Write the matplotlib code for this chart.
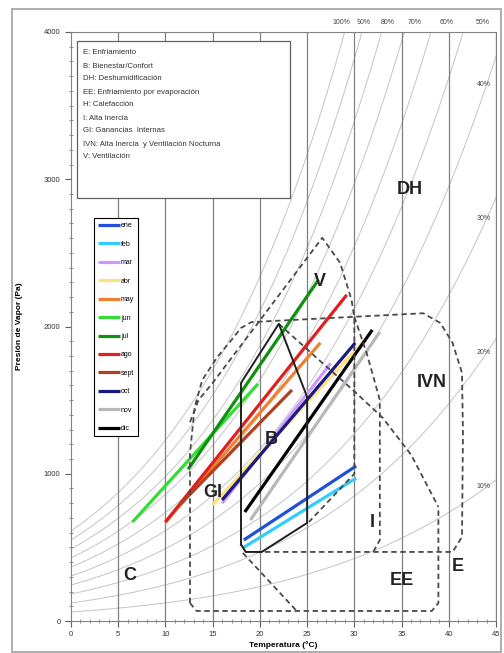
import numpy as np
import matplotlib.pyplot as plt
from matplotlib.patches import Rectangle

plt.rcParams['font.family'] = ['Liberation Sans', 'DejaVu Sans']

# --- DATA ---
months = ["ene", "feb", "mar", "abr", "may", "jun", "jul", "ago", "sept", "oct", "nov", "dic"]
month_colors = ["#1f50d8", "#33ccff", "#cc99ff", "#ffe080", "#f08030", "#33dd33",
                "#109010", "#e02020", "#b04020", "#1a1a80", "#b8b8b8", "#000000"]
t_min = [18.3, 18.2, 16.0, 15.0, 10.0, 6.5, 12.4, 10.0, 11.5, 16.0, 19.0, 18.4]
t_max = [30.2, 30.2, 27.5, 31.0, 26.4, 19.8, 26.2, 29.2, 23.4, 30.1, 32.7, 31.9]
p_at_tmin = [550, 496, 800, 790, 672, 672, 1030, 672, 788, 822, 686, 740]
p_at_tmax = [1053, 971, 1750, 1900, 1889, 1610, 2317, 2215, 1569, 1889, 1963, 1977]

rh_levels = [10, 20, 30, 40, 50, 60, 70, 80, 90, 100]

# comfort zone (B), solid outline
comfort_t = [18.0, 18.0, 22.0, 25.0, 25.0, 20.2, 18.5, 18.0]
comfort_p = [520, 1617, 2018, 1522, 666, 469, 469, 520]

# dashed zone outlines
zone_lines = {
    "IVN": ([12.6, 12.6, 13.1, 13.9, 15.5, 17.0, 18.0, 19.1, 37.3, 39.1, 40.4, 41.4, 41.5, 41.4, 40.4, 19.7],
            [122, 1141, 1454, 1637, 1793, 1909, 1990, 2030, 2090, 2024, 1889, 1685, 1277, 571, 469, 469]),
    "bottom": ([12.6, 13.3, 38.2, 38.9, 38.9],
               [122, 68, 68, 122, 775]),
    "V": ([12.6, 13.5, 15.0, 26.6, 28.5, 29.7, 30.0, 30.0, 25.2],
          [1350, 1500, 1617, 2602, 2432, 2181, 2065, 1000, 673]),
    "I": ([30.0, 31.3, 32.7, 32.7, 32.0],
          [2065, 1821, 1501, 550, 469]),
    "EE": ([22.0, 26.6, 30.0, 33.0, 36.0, 38.9],
           [2018, 1753, 1560, 1380, 1130, 775]),
    "EE_left": ([18.2, 23.9], [462, 68]),
}

zone_labels = ["DH", "IVN", "V", "B", "GI", "C", "I", "EE", "E"]
zone_label_t = [35.9, 38.2, 26.3, 21.2, 15.0, 6.2, 31.9, 35.0, 41.0]
zone_label_p = [2928, 1617, 2303, 1230, 876, 312, 672, 278, 367]

key_lines = ["E: Enfriamiento", "B: Bienestar/Confort", "DH: Deshumidificación",
             "EE: Enfriamiento por evaporación", "H: Calefacción", "I: Alta Inercia",
             "GI: Ganancias  Internas", "IVN: Alta Inercia  y Ventilación Nocturna",
             "V: Ventilación"]


def psat(t):
    return 610.78 * np.exp(17.27 * t / (t + 237.3))


W, H = 504, 653
fig = plt.figure(figsize=(W / 100, H / 100), dpi=100)
fig.patches.append(Rectangle((12 / W, 1 / H), 489 / W, 643 / H, transform=fig.transFigure,
                             fill=False, edgecolor="#a0a0a0", lw=1.2))

ax = fig.add_axes([71 / W, 1 - 621 / H, 425 / W, 589 / H])
ax.set_xlim(0, 45)
ax.set_ylim(0, 4000)

# --- RH CURVES ---
tt = np.linspace(0, 45, 400)
for rh in rh_levels:
    ax.plot(tt, rh / 100 * psat(tt), color="#c4c4c4", lw=0.7, zorder=1)
    if rh >= 50:
        tc = np.interp(4000, rh / 100 * psat(tt), tt)
        ax.text(tc - 0.3 + (1 - rh / 100) * 4.8, 4040, f"{rh}%", fontsize=5,
                ha="center", va="bottom", color="#444444")
    else:
        ax.text(43.7, rh / 100 * psat(45) * 0.95, f"{rh}%", fontsize=5,
                ha="center", va="center", color="#444444")

# --- GRID ---
for x in range(5, 46, 5):
    ax.axvline(x, color="#808080", lw=0.9, zorder=1)

# --- ZONES ---
for name, (zt, zp) in zone_lines.items():
    ax.plot(zt, zp, color="#4a4a4a", lw=1.3, ls=(0, (3, 2)), zorder=4)
ax.plot(comfort_t, comfort_p, color="#202020", lw=1.4, zorder=5)

# --- MONTH LINES ---
for m, c, t0, t1, p0, p1 in zip(months, month_colors, t_min, t_max, p_at_tmin, p_at_tmax):
    ax.plot([t0, t1], [p0, p1], color=c, lw=2.3, label=m, zorder=3, solid_capstyle="butt")

for lab, t, p in zip(zone_labels, zone_label_t, zone_label_p):
    ax.text(t, p, lab, fontsize=13, fontweight="bold", ha="center", va="center",
            color="#222222", zorder=6)

# --- AXES STYLE ---
ax.set_xticks(range(0, 46, 5))
ax.set_xticks(range(0, 46), minor=True)
ax.set_yticks(range(0, 4001, 1000))
ax.set_yticks(range(0, 4001, 100), minor=True)
ax.tick_params(which="major", labelsize=5.5, length=4, color="#606060", labelcolor="#333333")
ax.tick_params(which="minor", length=3, direction="inout", color="#808080")
for s in ax.spines.values():
    s.set_color("#808080")
ax.set_xlabel("Temperatura (°C)", fontsize=6, fontweight="bold", labelpad=2)
ax.set_ylabel("Presión de Vapor (Pa)", fontsize=6, fontweight="bold", labelpad=15)

# month legend
leg = ax.legend(loc="upper left", bbox_to_anchor=(0.045, 0.69), fontsize=5,
                frameon=True, fancybox=False, edgecolor="black", framealpha=1,
                handlelength=3.2, handletextpad=0.1, labelspacing=1.65, borderpad=0.6,
                markerfirst=True)
leg.get_frame().set_linewidth(0.8)
leg.set_zorder(8)

# key box
fig.patches.append(Rectangle((77 / W, 1 - 198 / H), 213 / W, 157 / H, transform=fig.transFigure,
                             facecolor="white", edgecolor="#606060", lw=0.9, zorder=7))
for i, line in enumerate(key_lines):
    fig.text(83 / W, 1 - (53 + 13 * i) / H, line, fontsize=5.6, va="center", ha="left",
             color="#333333", zorder=8)

fig.savefig("out.png", dpi=100)
